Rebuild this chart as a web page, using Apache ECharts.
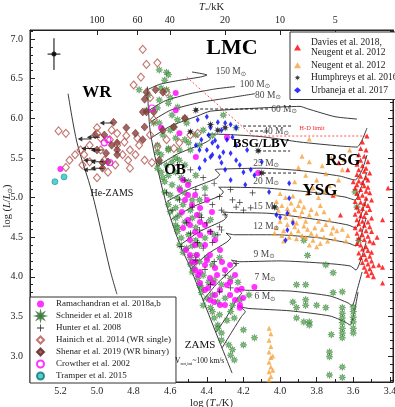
<!DOCTYPE html>
<html><head><meta charset="utf-8">
<script src="https://cdn.jsdelivr.net/npm/echarts@6/dist/echarts.min.js"></script>
<style>html,body{margin:0;padding:0;background:#fff}#c{width:395px;height:407px}</style>
</head><body><div id="c"></div>
<script>
const FONT = '"Liberation Serif","DejaVu Serif",serif';

// ---------- axis ranges / ticks ----------
const xMin = 3.383, xMax = 5.366;   // log Teff (reversed)
const yMin = 2.672, yMax = 7.114;   // log L
const teffKK = [100, 60, 40, 20, 10, 5];

// ---------- reference lines ----------
const zams   = [[4.725,6.40],[4.710,5.85],[4.667,5.347],[4.612,4.842],[4.546,4.401],[4.492,4.123],[4.410,3.644],[4.328,3.164],[4.262,2.785]];
const heZams = [[5.158,6.31],[5.109,5.69],[5.027,5.06],[4.929,4.09],[4.891,3.78]];
const hdLimit = [[4.51,6.52],[4.148,5.776],[3.525,5.776]];

// ---------- evolutionary tracks ----------
const track150 = [[4.725,6.36],[4.656,6.43],[4.546,6.48],[4.437,6.52],[4.399,6.546],[4.481,6.584]];
const track100 = [[4.716,6.10],[4.628,6.22],[4.492,6.31],[4.355,6.37],[4.246,6.40]];
const track80  = [[4.710,5.95],[4.600,6.10],[4.437,6.20],[4.273,6.26],[4.137,6.31]];
const track60  = [[4.705,5.75],[4.600,5.90],[4.450,6.03],[4.380,6.09],[4.109,6.13],[3.891,6.15],[3.85,6.12],[3.70,6.02],[3.58,5.99]];
const track40  = [[4.667,5.40],[4.560,5.55],[4.420,5.68],[4.380,5.74],[4.400,5.79],[4.360,5.80],[4.109,5.77],[3.891,5.70],[3.672,5.65],[3.579,5.637],[3.552,5.726],[3.525,5.877]];
const track25  = [[4.617,4.95],[4.500,5.10],[4.350,5.24],[4.330,5.29],[4.355,5.35],[4.310,5.36],[4.109,5.37],[3.891,5.34],[3.672,5.27],[3.590,5.221],[3.552,5.347],[3.525,5.536]];
const track20  = [[4.596,4.72],[4.480,4.88],[4.330,5.02],[4.310,5.07],[4.335,5.13],[4.290,5.13],[4.082,5.12],[3.836,5.069],[3.645,5.006],[3.590,4.968],[3.552,5.158],[3.525,5.322]];
const track15  = [[4.546,4.40],[4.440,4.57],[4.310,4.71],[4.290,4.76],[4.315,4.82],[4.270,4.81],[4.055,4.80],[3.781,4.716],[3.628,4.653],[3.585,4.615],[3.552,4.817],[3.525,4.994]];
const track12  = [[4.486,4.10],[4.400,4.28],[4.290,4.44],[4.270,4.49],[4.295,4.55],[4.250,4.53],[4.027,4.53],[3.781,4.49],[3.628,4.426],[3.585,4.388],[3.552,4.565],[3.530,4.741]];
const track9   = [[4.421,3.70],[4.350,3.90],[4.260,4.10],[4.240,4.15],[4.265,4.21],[4.220,4.19],[4.000,4.20],[3.754,4.17],[3.617,4.136],[3.585,4.085],[3.552,4.262],[3.530,4.44]];
const track7   = [[4.350,3.30],[4.290,3.50],[4.230,3.74],[4.210,3.79],[4.235,3.85],[4.190,3.83],[3.945,3.82],[3.727,3.757],[3.628,3.669],[3.607,3.631],[3.579,3.833],[3.552,4.06]];
const track6   = [[4.317,3.10],[4.270,3.28],[4.210,3.50],[4.190,3.56],[4.215,3.62],[4.170,3.60],[3.945,3.57],[3.727,3.505],[3.645,3.43],[3.617,3.39],[3.590,3.606],[3.574,3.808]];
const trackLabelMass = ['150','100','80','60','40','25','20','15','12','9','7','6'];
const trackLabelT = [4.268,4.137,4.066,3.978,4.022,4.076,4.076,4.076,4.076,4.087,4.082,4.082];
const trackLabelL = [6.584,6.432,6.293,6.117,5.839,5.435,5.208,4.893,4.640,4.287,3.997,3.745];

// dashed horizontal excursions (Humphreys)
const dash1 = [[4.464,6.117],[4.055,6.117]];
const dash2 = [[4.202,5.902],[3.929,5.902]];
const dash3 = [[4.164,5.839],[4.055,5.839]];
const dash4 = [[4.120,5.587],[3.945,5.587]];
const dash5 = [[4.093,5.309],[3.907,5.309]];

// error bar
const errCenter = [5.235, 6.81];
const errHalf = [0.035, 0.2];

// ---------- observed stars ----------
const schneider = [
[4.62,6.58],[4.63,6.48],[4.62,6.36],[4.66,6.23],[4.60,6.26],[4.61,6.19],[4.67,6.13],[4.69,5.94],[4.66,5.94],[4.73,6.10],[4.72,6.29],[4.77,6.36],
[4.59,6.04],[4.56,5.98],[4.52,6.00],[4.60,5.85],[4.64,5.79],[4.57,5.75],[4.52,5.73],[4.46,5.79],[4.67,5.66],[4.61,5.62],[4.55,5.60],[4.49,5.60],
[4.44,5.66],[4.66,6.61],[4.61,6.55],[4.65,6.38],[4.56,6.14],[4.51,5.94],[4.58,5.89],[4.50,5.69],[4.31,6.04],[4.42,5.85],[4.37,5.78],[4.24,5.88],
[4.67,5.57],[4.65,5.54],[4.61,5.60],[4.57,5.50],[4.66,5.44],[4.62,5.41],[4.59,5.45],[4.55,5.47],[4.52,5.41],[4.67,5.37],
[4.65,5.32],[4.61,5.28],[4.57,5.32],[4.54,5.25],[4.63,5.20],[4.59,5.16],[4.55,5.12],[4.50,5.20],[4.46,5.28],[4.64,5.25],
[4.63,5.07],[4.60,5.03],[4.56,4.99],[4.52,5.06],[4.48,4.97],[4.61,4.91],[4.57,4.87],[4.53,4.91],[4.49,4.84],[4.44,4.97],[4.41,5.12],
[4.60,4.82],[4.57,4.74],[4.55,4.78],[4.52,4.69],[4.48,4.74],[4.57,4.65],[4.56,4.62],[4.46,4.62],[4.44,4.78],[4.38,4.72],
[4.56,4.57],[4.54,4.49],[4.50,4.53],[4.46,4.46],[4.55,4.40],[4.51,4.36],[4.48,4.39],[4.44,4.40],[4.41,4.49],[4.36,4.53],
[4.53,4.31],[4.49,4.24],[4.46,4.27],[4.49,4.16],[4.47,4.11],[4.44,4.19],[4.40,4.24],[4.37,4.15],[4.33,4.24],
[4.48,4.06],[4.45,3.98],[4.42,4.02],[4.44,3.89],[4.43,3.86],[4.39,3.93],[4.36,3.96],[4.32,3.90],[4.27,3.98],[4.23,3.93],
[4.43,3.80],[4.40,3.73],[4.37,3.77],[4.42,3.64],[4.38,3.61],[4.34,3.68],[4.30,3.73],[4.26,3.64],[4.22,3.71],[4.17,3.77],
[4.37,3.56],[4.36,3.48],[4.33,3.52],[4.34,3.39],[4.34,3.35],[4.29,3.45],[4.25,3.48],[4.20,3.33],[4.27,3.56],
[4.32,3.29],[4.32,3.20],[4.28,3.14],[4.27,3.01],[4.25,2.95],[4.14,3.23],[4.26,3.08],[4.20,3.14],
[3.87,4.46],[3.85,4.27],[3.59,5.07],[3.58,4.88],[3.57,4.46],[3.75,4.15],[3.71,4.05],[3.91,3.90],[3.86,3.90],[3.71,3.80],[3.66,3.81],
[3.93,3.68],[3.91,3.61],[3.86,3.71],[3.86,3.64],[3.80,3.64],[3.75,3.61],[3.91,3.48],[3.87,3.43],[3.84,3.43],[3.84,3.39],
[3.66,3.61],[3.66,3.54],[3.66,3.48],[3.66,3.42],[3.66,3.35],[3.66,3.29],[3.66,3.23],
[3.60,3.62],[3.60,3.56],[3.60,3.49],[3.60,3.43],[3.60,3.35],[3.60,3.29],
[3.72,3.27],[3.73,3.05],[3.73,2.99],[3.66,2.86],[3.66,2.73],[3.73,2.76]
];
const ramachandran = [
[4.530,5.221],[4.503,5.158],[4.546,5.095],[4.464,5.032],[4.519,4.968],[4.481,4.905],[4.536,4.817],[4.454,4.779],[4.503,4.716],[4.530,4.615],
[4.464,4.565],[4.492,4.464],[4.514,4.338],[4.454,4.274],[4.481,4.186],[4.464,4.186],[4.410,4.148],[4.355,4.110],[4.437,4.060],[4.383,3.984],
[4.301,4.085],[4.273,3.934],[4.328,3.833],[4.410,3.833],[4.355,3.770],[4.273,3.770],[4.246,3.707],[4.219,3.644],[4.301,3.644],[4.437,3.921],
[4.448,4.022],[4.410,4.401],[4.383,4.274],[4.355,4.464],[4.328,4.338],[4.437,4.527],[4.410,4.653],[4.372,4.817],[4.437,4.867],[4.399,4.968],
[4.317,4.186],[4.273,4.148],[4.246,4.022],[4.290,3.896],[4.383,3.707],[4.328,3.644],[4.235,3.833],[4.202,3.732],[4.393,3.858],[4.361,3.682],
[4.464,4.085],[4.492,4.274],[4.366,3.921],[4.344,4.022],[4.399,4.211],[4.464,4.401],[4.383,4.565],[4.492,4.653],[4.437,4.691],[4.503,5.032],
[4.57,6.32],[4.57,6.10],[4.55,5.81],[4.65,5.88],[4.46,5.51],[5.20,5.36],[4.29,5.76],[4.12,5.31],[4.14,3.87],[4.21,3.85],[4.22,3.61]
];
const hunter = [
[4.42,5.25],[4.36,5.18],[4.33,5.01],[4.26,4.97],[4.22,4.94],[4.15,5.06],[4.37,4.91],[4.32,4.84],[4.24,4.88],[4.20,4.84],[4.16,4.87],
[4.30,4.78],[4.43,4.75],[4.40,4.68],[4.33,4.63],[4.38,4.57],[4.34,4.53],[4.32,4.59],[4.37,4.43],[4.42,4.36],[4.62,5.06],[4.55,4.97],
[4.59,4.84],[4.51,4.68],[4.48,4.88],[4.49,4.55],[4.45,4.43],[4.54,4.38],[4.52,5.22],[4.46,5.10],[4.41,5.03],[4.27,5.10],[4.46,4.21],
[4.41,4.09],[4.36,4.19],[4.30,4.02],[4.24,4.17],[4.38,3.90],[4.33,3.81],[4.27,3.86],[4.44,4.59],[4.56,5.41],[4.49,5.35]
];
const hainich = [
[4.75,6.87],[4.73,6.68],[4.67,6.70],[4.76,6.52],[4.80,6.42],[4.71,6.26],[4.62,6.33],[4.69,5.98],[5.21,5.84],[5.17,5.81],[5.00,5.88],[5.00,5.81],
[4.84,5.78],[5.15,5.47],[5.17,5.38],[5.00,5.25],[5.04,5.45],[4.70,5.44],[4.67,5.64],[4.62,5.73],[4.55,5.69],[4.58,5.62],[4.49,5.79],[4.45,5.81],
[4.93,5.73],[4.89,5.66],[4.85,5.70],[4.82,5.60],[4.86,5.54],[4.79,5.54],[4.77,5.66],[4.83,5.47],[4.90,5.41],[4.96,5.47],[4.98,5.60],[4.94,5.32],
[4.78,5.75],[4.74,5.47],[4.92,5.85],[5.09,5.60],[5.07,5.54],[5.04,5.66],[4.98,5.75],[5.12,5.54],[5.08,5.41],[4.89,5.81],[4.82,5.37],[4.71,5.79]
];
const shenar = [
[4.91,5.95],[4.84,5.88],[4.79,5.81],[4.96,5.79],[4.73,6.33],[4.68,6.36],[4.64,6.33],[4.74,6.24],[4.73,6.08],[4.69,6.08],[4.75,6.08],[4.52,6.00],
[4.64,5.85],[5.01,5.79],[4.89,5.69],[4.92,5.66],[5.00,5.60],[4.95,5.56],[4.89,5.60],[4.94,5.45],[4.89,5.54],[4.97,5.44],[4.97,5.37],[4.66,5.47],
[4.58,5.89],[4.74,5.89],[4.75,5.73]
];
const wrArrows = [[4.95,5.94],[5.07,5.74],[5.02,5.76],[5.05,5.62],[5.00,5.60],[5.04,5.47],[5.00,5.45],[5.04,5.35],[5.00,5.37]];
const crowther = [[4.96,5.69],[4.93,5.44],[4.70,6.13],[4.94,5.73]];
const tramper = [[5.23,5.20],[5.18,5.26]];
const davies = [
[3.55,5.70],[3.56,5.62],[3.53,5.60],[3.57,5.54],[3.54,5.52],[3.56,5.47],[3.52,5.45],[3.58,5.42],[3.55,5.40],[3.53,5.37],[3.57,5.35],[3.54,5.33],
[3.51,5.31],[3.58,5.29],[3.56,5.27],[3.53,5.25],[3.52,5.22],[3.57,5.21],[3.55,5.19],[3.58,5.16],[3.54,5.15],[3.52,5.13],[3.59,5.12],[3.56,5.10],
[3.53,5.08],[3.51,5.06],[3.58,5.05],[3.55,5.03],[3.57,5.00],[3.53,4.99],[3.50,4.97],[3.59,4.95],[3.56,4.94],[3.54,4.92],[3.52,4.90],[3.58,4.88],
[3.55,4.86],[3.51,4.85],[3.57,4.83],[3.53,4.81],[3.59,4.79],[3.56,4.77],[3.54,4.76],[3.50,4.74],[3.58,4.72],[3.55,4.70],[3.52,4.69],[3.57,4.67],
[3.54,4.65],[3.51,4.63],[3.59,4.62],[3.56,4.60],[3.53,4.58],[3.50,4.57],[3.58,4.55],[3.55,4.53],[3.52,4.51],[3.57,4.49],[3.54,4.47],[3.51,4.45],
[3.49,4.43],[3.58,4.42],[3.56,4.40],[3.53,4.38],[3.55,4.35],[3.52,4.33],[3.50,4.31],[3.57,4.30],[3.54,4.28],[3.51,4.26],[3.56,4.24],[3.53,4.22],
[3.50,4.20],[3.55,4.18],[3.52,4.16],[3.49,4.14],[3.54,4.12],[3.51,4.10],[3.53,4.07],[3.50,4.05],[3.52,4.02],[3.49,4.00],
[3.44,4.72],[3.41,5.12],[3.44,4.12],[3.44,3.92],[3.46,4.15],[3.67,4.78],[3.71,5.03],[3.63,5.35],[3.68,5.44],[3.525,5.776],[3.47,4.50],[3.60,5.20]
];
const neugent = [
[4.02,4.62],[4.00,4.70],[3.98,4.58],[3.96,4.66],[3.94,4.55],[3.92,4.63],[3.90,4.58],[3.88,4.52],[3.97,4.75],[3.95,4.80],[3.93,4.72],[3.91,4.68],
[3.89,4.76],[3.87,4.64],[4.01,4.84],[3.99,4.90],[3.96,4.86],[3.94,4.93],[3.92,4.85],[3.90,4.90],[3.88,4.82],[3.86,4.70],[4.03,4.55],[3.99,4.52],
[3.85,4.60],[3.95,4.50],[3.91,4.48],[3.86,4.50],[3.83,4.55],[3.89,4.96],[3.97,5.00],[4.00,5.05],[3.93,5.02],[3.87,4.88],[3.84,4.78],[4.02,4.95],[3.98,4.45],
[3.82,4.46],[3.80,4.52],[3.78,4.42],[3.76,4.50],[3.74,4.45],[3.72,4.55],[3.70,4.48],[3.81,4.62],[3.79,4.70],[3.77,4.60],[3.75,4.66],[3.73,4.72],
[3.71,4.62],[3.83,4.85],[3.80,4.80],[3.78,4.90],[3.76,4.82],[3.69,4.58],[3.84,4.40],[3.80,4.38],[3.64,4.45],[3.63,4.52],[3.66,4.60],
[3.85,5.05],[3.82,5.12],[3.79,5.00],[3.76,5.08],[3.73,5.15],[3.70,5.05],[3.80,5.22],[3.86,5.28],[3.75,5.30],[3.68,5.22],[3.90,5.38],[3.84,5.45],
[3.77,5.40],[3.72,5.50],[3.66,5.35],[3.88,5.52],[3.92,5.20],[3.84,5.74],[3.62,5.60],[3.65,5.48],
[4.06,3.35],[4.05,3.28],[4.06,3.20],[4.05,3.12],[4.06,3.05],[4.05,2.98],[4.06,2.92],[4.05,2.86],[4.06,2.80],[4.05,2.74],[4.06,2.70],[4.04,3.00],[4.04,2.82]
];
const urbaneja = [
[4.40,6.02],[4.34,5.95],[4.30,5.94],[4.27,5.92],[4.24,5.88],[4.38,5.88],[4.32,5.85],[4.26,5.76],[4.39,5.79],[4.37,5.69],[4.34,5.64],[4.40,5.60],
[4.31,5.57],[4.24,5.66],[4.38,5.51],[4.33,5.51],[4.355,5.72],[4.29,5.73],[4.43,5.73],[4.44,5.60],[4.41,5.47],[4.37,5.54],[4.32,5.44],[4.27,5.56],
[4.20,5.32],[4.27,5.22],[4.19,5.16],[4.22,5.41],[3.95,5.18],[3.95,4.99],[4.06,5.07],[3.96,4.80],[4.02,4.78],[3.96,4.59],[3.93,4.68],[3.97,4.46],
[4.00,4.75],[4.45,5.98],[4.46,5.66],[4.30,5.35],[4.16,5.35],[4.14,5.28],[4.24,5.47],[4.10,5.45],[4.18,5.60],[4.44,5.37]
];
const humphreys = [[4.46,6.10],[4.38,5.92],[4.34,5.85],[4.49,5.83],[4.12,5.59],[4.10,5.31],[4.03,4.88],[4.30,5.88]];

// ---------- names ----------
const nRama='Ramachandran et al. 2018a,b', nSchn='Schneider et al. 2018', nHunt='Hunter et al. 2008',
      nHain='Hainich et al. 2014 (WR single)', nShen='Shenar et al. 2019 (WR binary)', nCrow='Crowther et al. 2002',
      nTram='Tramper et al. 2015', nDav='Davies et al. 2018,\nNeugent et al. 2012', nNeu='Neugent et al. 2012',
      nHum='Humphreys et al. 2016', nUrb='Urbaneja et al. 2017';

const pStar = 'path://M5,0 L5.77,3.15 L8.54,1.46 L6.85,4.23 L10,5 L6.85,5.77 L8.54,8.54 L5.77,6.85 L5,10 L4.23,6.85 L1.46,8.54 L3.15,5.77 L0,5 L3.15,4.23 L1.46,1.46 L4.23,3.15 Z';
const pPlus = 'path://M4.4,0 L5.6,0 L5.6,4.4 L10,4.4 L10,5.6 L5.6,5.6 L5.6,10 L4.4,10 L4.4,5.6 L0,5.6 L0,4.4 L4.4,4.4 Z';
const pArrow = 'path://M0,3 L5,0 L5,2.4 L14,2.4 L14,3.6 L5,3.6 L5,6 Z';

function ln(data, extra) {
  return Object.assign({type:'line', data, symbol:'none', showSymbol:false, silent:true, z:1,
    lineStyle:{color:'#222', width:0.9}, smooth:0.2}, extra || {});
}
function sc(name, data, symbol, size, itemStyle, z) {
  return {type:'scatter', name, data, symbol, symbolSize:size, itemStyle, z:z||3, silent:true};
}

const tracks = [track150,track100,track80,track60,track40,track25,track20,track15,track12,track9,track7,track6];
const series = [];
series.push(ln(zams, {smooth:0.3}));
series.push(ln(heZams, {smooth:0.3}));
tracks.forEach(t => series.push(ln(t)));
[dash1,dash2,dash3,dash4,dash5].forEach(d => series.push(ln(d, {smooth:false, lineStyle:{color:'#111', width:0.9, type:[3,2]}})));
series.push(ln(hdLimit, {smooth:false, lineStyle:{color:'#ff2a2a', width:0.8, type:[2,2]}}));
series.push(ln([[errCenter[0]-errHalf[0],errCenter[1]],[errCenter[0]+errHalf[0],errCenter[1]]], {smooth:false, lineStyle:{color:'#000', width:1}}));
series.push(ln([[errCenter[0],errCenter[1]-errHalf[1]],[errCenter[0],errCenter[1]+errHalf[1]]], {smooth:false, lineStyle:{color:'#000', width:1}}));

series.push(sc(nSchn, schneider, pStar, 7, {color:'#5cb85c', borderColor:'#2e6b2e', borderWidth:0.5}, 3));
series.push(sc(nRama, ramachandran, 'circle', 6, {color:'#ff00ff'}, 4));
series.push(sc(nHunt, hunter, pPlus, 6, {color:'#000'}, 5));
series.push(sc(nHain, hainich, 'diamond', [7,8], {color:'rgba(255,255,255,0)', borderColor:'#b5524c', borderWidth:1.1}, 4));
series.push(sc(nShen, shenar, 'diamond', [7,8], {color:'#8b3d3a', borderColor:'#5a2220', borderWidth:0.6}, 5));
series.push(sc('arrows', wrArrows, pArrow, [13,5], {color:'#000'}, 5));
series.push(sc(nCrow, crowther, 'circle', 6, {color:'rgba(255,255,255,0)', borderColor:'#ff00ff', borderWidth:1.2}, 6));
series.push(sc(nTram, tramper, 'circle', 6, {color:'#22c8c8', borderColor:'#127070', borderWidth:0.6}, 6));
series.push(sc(nDav, davies, 'triangle', 5, {color:'#ff0000'}, 4));
series.push(sc(nNeu, neugent, 'triangle', 5, {color:'#f6a13a'}, 4));
series.push(sc(nUrb, urbaneja, 'diamond', [4,6], {color:'#0000ff'}, 5));
series.push(sc(nHum, humphreys, pStar, 8, {color:'#000'}, 6));
series.push(sc('err', [errCenter], 'circle', 5, {color:'#000'}, 6));
series.push({type:'scatter', name:'tracklabels', silent:true, z:7, symbolSize:0,
  data: trackLabelMass.map((m,i) => ({value:[trackLabelT[i], trackLabelL[i]], name:m})),
  label:{show:true, position:'inside', formatter: p => '{n|' + p.name + ' M}{s|⊙}',
    rich:{n:{fontFamily:FONT, fontSize:9.5, color:'#111', lineHeight:12},
          s:{fontFamily:'DejaVu Sans', fontSize:6.5, color:'#111', lineHeight:12, verticalAlign:'bottom'}}}});

const axisCommon = {
  axisLine:{show:true, lineStyle:{color:'#222', width:1}},
  splitLine:{show:false},
  nameMoveOverlap:false
};
const richName = {n:{fontFamily:FONT, fontSize:10.5, color:'#222'}, i:{fontFamily:FONT, fontSize:10.5, fontStyle:'italic', color:'#222'},
        s:{fontFamily:FONT, fontSize:7, color:'#222', verticalAlign:'bottom', lineHeight:14}};

const option = {
  animation:false,
  backgroundColor:'#fff',
  grid:{left:30, right:2, top:30, bottom:25, show:true, borderColor:'#222', borderWidth:1, containLabel:false, outerBoundsMode:'none'},
  xAxis:[
    Object.assign({}, axisCommon, {type:'value', position:'bottom', inverse:true, min:xMin, max:xMax, splitNumber:10,
      axisTick:{show:true, inside:true, length:5, lineStyle:{color:'#222'}},
      minorTick:{show:true, splitNumber:2, length:3, lineStyle:{color:'#222'}},
      axisLabel:{fontFamily:FONT, fontSize:10, color:'#222', margin:4, showMinLabel:false, showMaxLabel:false,
        formatter: v => v.toFixed(1)},
      name:'{n|log (}{i|T}{s|*}{n|/K)}', nameLocation:'middle', nameGap:14,
      nameTextStyle:{rich:richName}}),
    Object.assign({}, axisCommon, {type:'value', position:'top', inverse:true, min:xMin, max:xMax,
      axisTick:{show:true, inside:true, length:5, lineStyle:{color:'#222'}, customValues: teffKK.map(t => Math.log10(t*1000))},
      axisLabel:{fontFamily:FONT, fontSize:10, color:'#222', margin:5, customValues: teffKK.map(t => Math.log10(t*1000)),
        formatter: v => String(Math.round(Math.pow(10, v)/1000))},
      name:'{i|T}{s|*}{n|/kK}', nameLocation:'middle', nameGap:16,
      nameTextStyle:{rich:richName}})
  ],
  yAxis:[
    Object.assign({}, axisCommon, {type:'value', position:'left', min:yMin, max:yMax, splitNumber:9,
      axisTick:{show:true, inside:true, length:5, lineStyle:{color:'#222'}},
      minorTick:{show:true, splitNumber:5, length:3, lineStyle:{color:'#222'}},
      axisLabel:{fontFamily:FONT, fontSize:10, color:'#222', margin:7, showMinLabel:false, showMaxLabel:false,
        formatter: v => v.toFixed(1)},
      name:'{n|log (}{i|L}{n|/}{i|L}{s|⊙}{n|)}', nameLocation:'middle', nameGap:16, nameRotate:90,
      nameTextStyle:{rich:Object.assign({}, richName, {s:{fontFamily:'DejaVu Sans', fontSize:6.5, color:'#222', verticalAlign:'bottom', lineHeight:14}})}}),
    Object.assign({}, axisCommon, {type:'value', position:'right', min:yMin, max:yMax, splitNumber:9,
      axisTick:{show:true, inside:true, length:5, lineStyle:{color:'#222'}},
      minorTick:{show:true, splitNumber:5, length:3, lineStyle:{color:'#222'}},
      axisLabel:{show:false}})
  ],
  legend:[
    {orient:'vertical', left:290, top:32, padding:[5,12,4,4], itemWidth:7, itemHeight:6, itemGap:2,
     backgroundColor:'#fff', borderColor:'#333', borderWidth:1, selectedMode:false,
     textStyle:{fontFamily:FONT, fontSize:9.5, color:'#222', lineHeight:10.5, padding:[0,0,0,5]},
     data:[{name:nDav, icon:'triangle'},{name:nNeu, icon:'triangle'},{name:nHum, icon:pStar},{name:nUrb, icon:'diamond'}]},
    {orient:'vertical', left:30, top:297, padding:[1,5,1,6], itemWidth:7, itemHeight:7, itemGap:0,
     backgroundColor:'#fff', borderColor:'#333', borderWidth:1, selectedMode:false,
     textStyle:{fontFamily:FONT, fontSize:9, color:'#222', lineHeight:12, padding:[0,0,0,7]},
     data:[{name:nRama, icon:'circle'},{name:nSchn, icon:pStar},{name:nHunt, icon:pPlus},{name:nHain, icon:'diamond'},
           {name:nShen, icon:'diamond'},{name:nCrow, icon:'circle'},{name:nTram, icon:'circle'}]}
  ],
  graphic:[
    {type:'text', x:232, y:48, z:10, style:{text:'LMC', font:'bold 22px ' + FONT, fill:'#000', align:'center', verticalAlign:'middle'}},
    {type:'text', x:97, y:93, z:10, style:{text:'WR', font:'bold 17px ' + FONT, fill:'#000', align:'center', verticalAlign:'middle'}},
    {type:'text', x:175, y:170, z:10, style:{text:'OB', font:'bold 15px ' + FONT, fill:'#000', align:'center', verticalAlign:'middle'}},
    {type:'text', x:261, y:144, z:10, style:{text:'BSG/LBV', font:'bold 13px ' + FONT, fill:'#000', align:'center', verticalAlign:'middle'}},
    {type:'text', x:343, y:161, z:10, style:{text:'RSG', font:'bold 17px ' + FONT, fill:'#000', align:'center', verticalAlign:'middle'}},
    {type:'text', x:320, y:191, z:10, style:{text:'YSG', font:'bold 17px ' + FONT, fill:'#000', align:'center', verticalAlign:'middle'}},
    {type:'text', x:112, y:193, z:10, style:{text:'He-ZAMS', font:'10px ' + FONT, fill:'#111', align:'center', verticalAlign:'middle'}},
    {type:'text', x:200, y:345, z:10, style:{text:'ZAMS', font:'11px ' + FONT, fill:'#111', align:'center', verticalAlign:'middle'}},
    {type:'text', x:312, y:128, z:10, style:{text:'H-D limit', font:'6.5px ' + FONT, fill:'#ff2a2a', align:'center', verticalAlign:'middle'}},
    {type:'text', x:175, y:361, z:10, style:{text:'{v|V}{s|rot,ini}{v|~100 km/s}', align:'left', verticalAlign:'middle',
      rich:{v:{fontFamily:FONT, fontSize:7.5, fill:'#111', lineHeight:10}, s:{fontFamily:FONT, fontSize:5, fill:'#111', lineHeight:10, verticalAlign:'bottom'}}}}
  ],
  series
};
const chart = echarts.init(document.getElementById('c'), null, {renderer:'canvas'});
chart.setOption(option);
</script></body></html>
